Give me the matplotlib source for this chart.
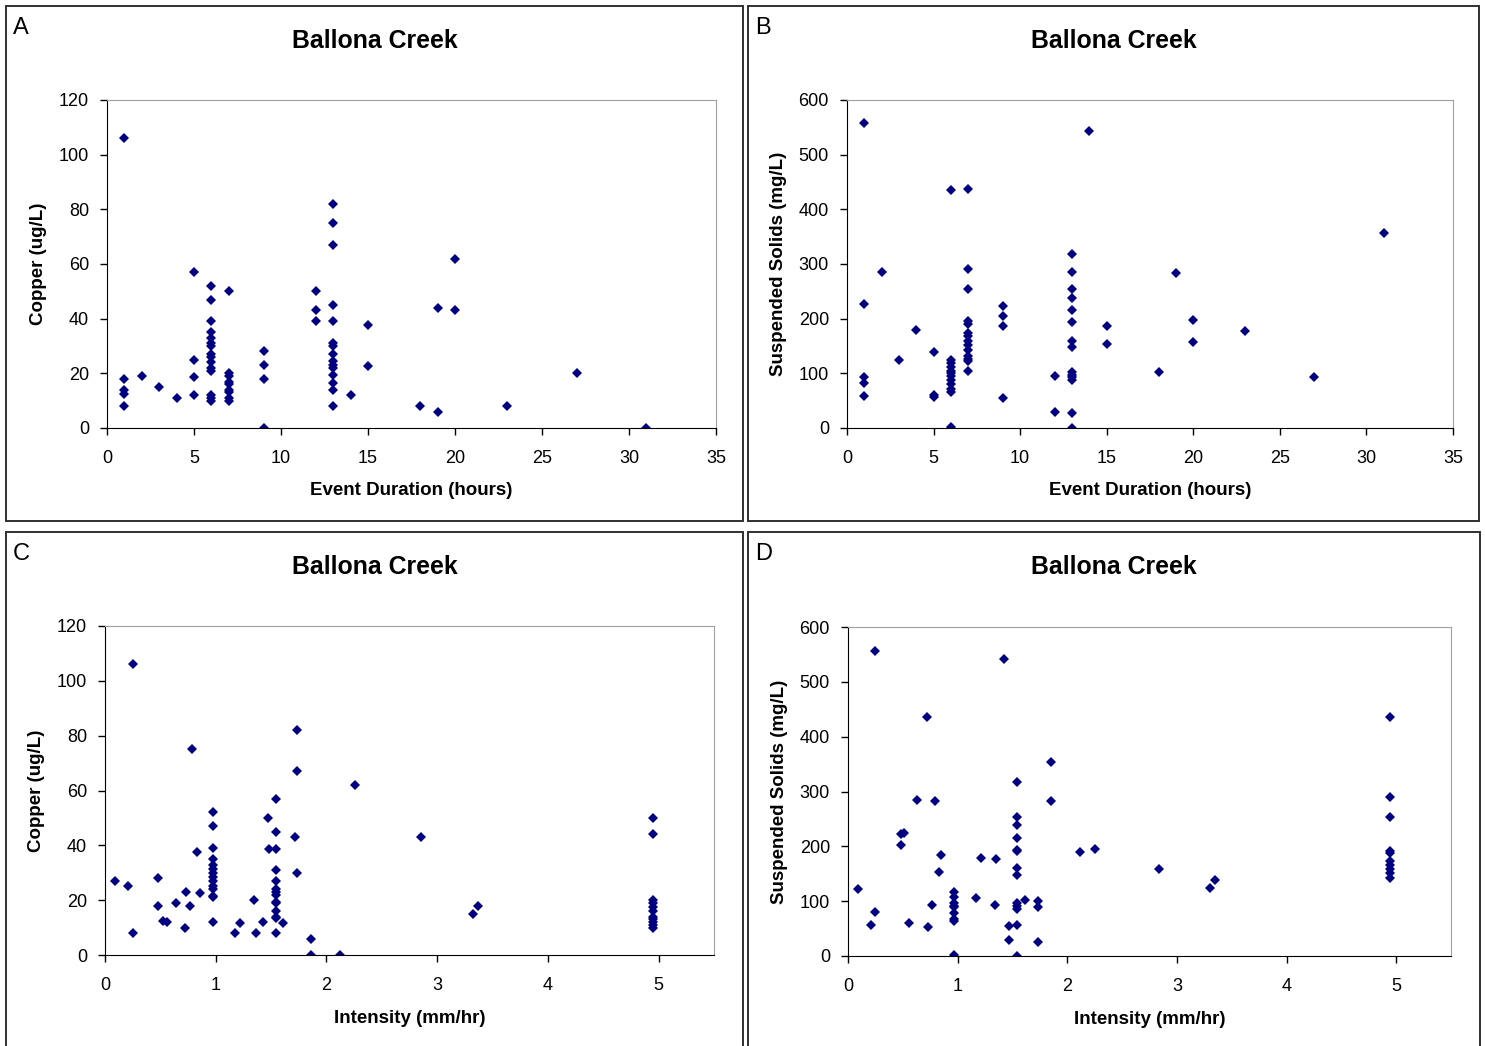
import matplotlib.pyplot as plt
from matplotlib.patches import Rectangle

plt.rcParams['font.family'] = ['Liberation Sans', 'DejaVu Sans']

# ---- data ----
# A: event duration (h) vs copper (ug/L)
dur_a = [1, 1, 1, 1, 1, 2, 3, 4, 5, 5, 5, 5,
         6, 6, 6, 6, 6, 6, 6, 6, 6, 6, 6, 6, 6, 6, 6,
         7, 7, 7, 7, 7, 7, 7, 7, 7,
         9, 9, 9, 9, 12, 12, 12,
         13, 13, 13, 13, 13, 13, 13, 13, 13, 13, 13, 13, 13, 13, 13,
         14, 15, 15, 18, 19, 19, 20, 20, 23, 27, 31]
cu_a = [106, 18, 14, 12.5, 8, 19, 15, 11, 57, 25, 18.5, 12,
        52, 47, 39, 35, 33, 31, 30, 27, 26, 24, 22, 21, 12, 11, 10,
        50, 20, 19, 17, 16, 14, 13, 11, 10,
        28, 23, 18, 0, 50, 43, 39,
        82, 75, 67, 45, 39, 31, 30, 27, 24.5, 23, 22, 19.5, 16.5, 14, 8,
        12, 37.5, 22.5, 8, 6, 44, 62, 43, 8, 20, 0]

# B: event duration (h) vs suspended solids (mg/L)
dur_b = [1, 1, 1, 1, 1, 2, 3, 4, 5, 5, 5,
         6, 6, 6, 6, 6, 6, 6, 6, 6, 6, 6, 6,
         7, 7, 7, 7, 7, 7, 7, 7, 7, 7, 7, 7, 7, 7,
         9, 9, 9, 9, 12, 12,
         13, 13, 13, 13, 13, 13, 13, 13, 13, 13, 13, 13, 13, 13,
         14, 15, 15, 18, 19, 20, 20, 23, 27, 31]
tss_b = [558, 226, 94, 82, 58, 285, 125, 179, 139, 61, 56,
         435, 125, 118, 112, 105, 100, 95, 88, 80, 72, 65, 2,
         437, 291, 255, 195, 190, 174, 168, 160, 152, 143, 132, 127, 123, 105,
         224, 204, 187, 54, 96, 29,
         318, 285, 255, 237, 215, 193, 160, 149, 102, 97, 93, 88, 27, 0,
         544, 186, 154, 102, 284, 197, 158, 177, 94, 356]

# C: intensity (mm/hr) vs copper (ug/L)
int_c = [0.09, 0.21, 0.25, 0.25, 0.48, 0.48, 0.52, 0.56, 0.64, 0.72, 0.73, 0.77,
         0.79, 0.83, 0.86,
         0.975, 0.975, 0.975, 0.975, 0.975, 0.975, 0.975, 0.975, 0.975, 0.975,
         0.975, 0.975, 0.975, 0.975,
         1.17, 1.22, 1.35, 1.36, 1.43, 1.47, 1.48,
         1.545, 1.545, 1.545, 1.545, 1.545, 1.545, 1.545, 1.545, 1.545, 1.545,
         1.545, 1.545, 1.545, 1.545,
         1.61, 1.73, 1.73, 1.72, 1.73, 1.86, 1.86, 2.12, 2.26, 2.85, 3.32, 3.37,
         4.95, 4.95, 4.95, 4.95, 4.95, 4.95, 4.95, 4.95, 4.95, 4.95, 4.95]
cu_c = [27, 25, 106, 8, 28, 18, 12.5, 12, 19, 10, 23, 18,
        75, 37.5, 22.5,
        52, 47, 39, 35, 33, 31.5, 30, 28.5, 27, 25,
        24, 21.5, 21, 12,
        8, 11.5, 20, 8, 12, 50, 38.5,
        57, 45, 38.5, 31, 27, 24, 23, 22, 19.5, 19,
        16, 14, 13.5, 8,
        11.5, 82, 67, 43, 30, 6, 0, 0, 62, 43, 15, 18,
        50, 44, 20, 19, 17.5, 16, 14, 13, 12, 11, 10]

# D: intensity (mm/hr) vs suspended solids (mg/L)
int_d = [0.09, 0.21, 0.25, 0.25, 0.48, 0.48, 0.51, 0.56, 0.63, 0.72, 0.73, 0.77,
         0.79, 0.83, 0.85,
         0.97, 0.97, 0.97, 0.97, 0.97, 0.97, 0.97, 0.97, 0.97,
         1.17, 1.21, 1.34, 1.35, 1.42, 1.47, 1.47,
         1.54, 1.54, 1.54, 1.54, 1.54, 1.54, 1.54, 1.54, 1.54, 1.54, 1.54,
         1.54, 1.54,
         1.61, 1.73, 1.73, 1.73, 1.85, 1.85, 2.12, 2.25, 2.84, 3.30, 3.35,
         4.94, 4.94, 4.94, 4.94, 4.94, 4.94, 4.94, 4.94, 4.94, 4.94]
tss_d = [122, 57, 557, 81, 202, 223, 225, 60, 284, 435, 53, 93,
         283, 153, 185,
         116, 108, 97, 92, 89, 78, 67, 63, 2,
         105, 178, 93, 176, 542, 29, 55,
         317, 254, 238, 216, 193, 191, 160, 148, 96, 91, 86,
         57, 0,
         102, 100, 89, 26, 354, 283, 189, 196, 158, 124, 138,
         435, 290, 254, 192, 187, 174, 166, 158, 151, 143]

site = "Ballona Creek"
W, H = 1485, 1046

fig = plt.figure(figsize=(W / 100, H / 100), dpi=100)


def px_rect(left, top, right, bottom):
    # pixel box -> figure fraction [l, b, w, h]
    return [left / W, 1 - bottom / H, (right - left) / W, (bottom - top) / H]


def make_panel(box, axbox, letter, x, y, xlim, xticks, ylim, yticks, xlabel, ylabel):
    l, t, r, b = box
    fig.patches.append(Rectangle((l / W, 1 - b / H), (r - l) / W, (b - t) / H,
                                 transform=fig.transFigure, fill=False,
                                 edgecolor='#303030', linewidth=1.4))
    fig.text((l + 7) / W, 1 - (t + 22) / H, letter, fontsize=17, va='center', ha='left')
    fig.text((l + r) / 2 / W, 1 - (t + 35) / H, site, fontsize=17.9,
             fontweight='bold', ha='center', va='center')

    ax = fig.add_axes(px_rect(*axbox))
    ax.plot(x, y, linestyle='none', marker='D', markersize=4.6,
            color='#000080', markeredgewidth=0)
    ax.set_xlim(*xlim)
    ax.set_ylim(*ylim)
    ax.set_xticks(xticks)
    ax.set_yticks(yticks)
    ax.tick_params(direction='out', length=5, width=1, labelsize=13)
    ax.tick_params(axis='x', pad=11)
    ax.tick_params(axis='y', pad=8)
    for s in ['top', 'right']:
        ax.spines[s].set_color('#a0a0a0')
    for s in ['left', 'bottom']:
        ax.spines[s].set_color('black')
    ax.set_xlabel(xlabel, fontsize=13.5, fontweight='bold')
    ax.set_ylabel(ylabel, fontsize=13.5, fontweight='bold')
    ax.xaxis.set_label_coords(0.5, -0.192)
    ax.xaxis.label.set_va('center')
    ax.yaxis.set_label_coords(-0.113, 0.5)
    ax.yaxis.label.set_va('center')
    return ax


make_panel((6, 6, 743, 521), (107, 100, 716, 428), 'A', dur_a, cu_a,
           (0, 35), range(0, 36, 5), (0, 120), range(0, 121, 20),
           'Event Duration (hours)', 'Copper (ug/L)')
make_panel((748, 6, 1479, 521), (847, 100, 1453, 428), 'B', dur_b, tss_b,
           (0, 35), range(0, 36, 5), (0, 600), range(0, 601, 100),
           'Event Duration (hours)', 'Suspended Solids (mg/L)')
make_panel((6, 532, 743, 1050), (105, 626, 714, 955), 'C', int_c, cu_c,
           (0, 5.5), range(0, 6), (0, 120), range(0, 121, 20),
           'Intensity (mm/hr)', 'Copper (ug/L)')
make_panel((748, 532, 1480, 1050), (848, 627, 1451, 956), 'D', int_d, tss_d,
           (0, 5.5), range(0, 6), (0, 600), range(0, 601, 100),
           'Intensity (mm/hr)', 'Suspended Solids (mg/L)')

fig.savefig('out.png', dpi=100)
